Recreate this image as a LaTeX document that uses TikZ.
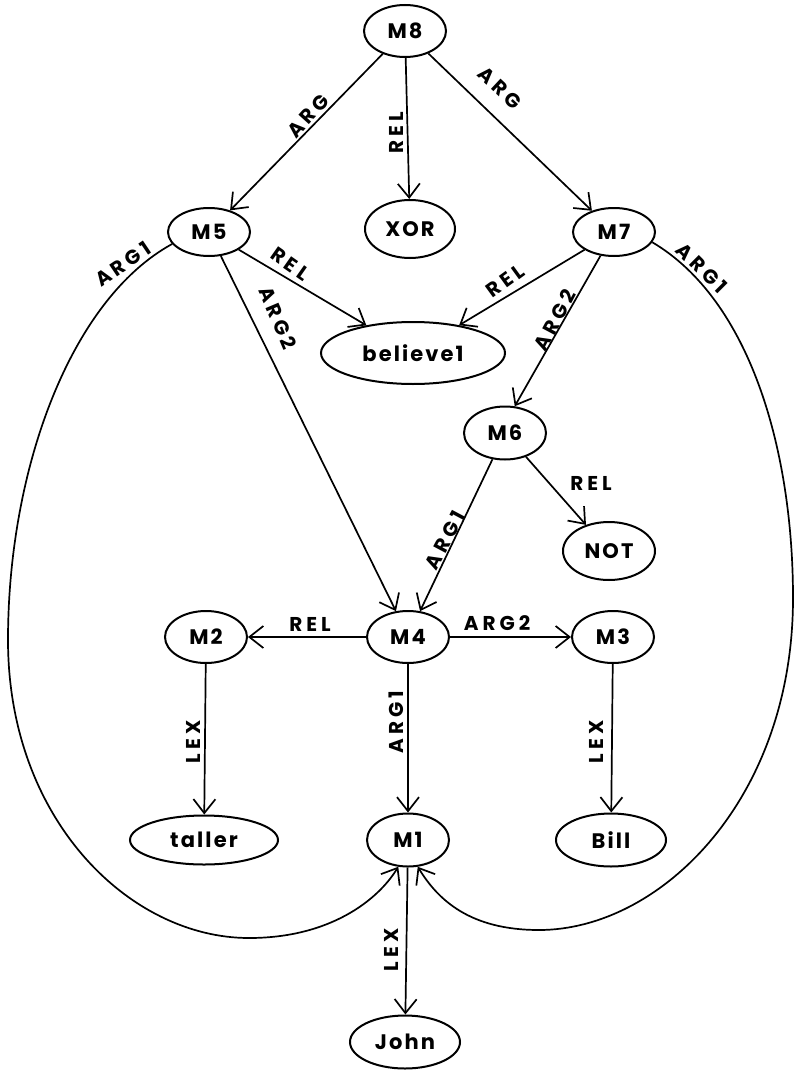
\documentclass[tikz,border=0pt]{standalone}
\usepackage{fontspec}
\setmainfont{Poppins}
\newfontfamily\nodef{Poppins}[LetterSpace=10]
\newfontfamily\labf{Poppins}[LetterSpace=20]
\usetikzlibrary{shapes.geometric,arrows.meta}
\begin{document}
\begin{tikzpicture}[x=1pt,y=-1pt,
  nd/.style={ellipse,draw,line width=2pt,inner sep=0pt,font=\nodef\bfseries\fontsize{21}{23}\selectfont},
  lab/.style={inner sep=0pt,font=\labf\bfseries\fontsize{20}{22}\selectfont},
  edge/.style={line width=1.7pt,-{Straight Barb[length=14pt,width=22pt,line width=1.7pt]}},
  plain/.style={line width=1.7pt}]
\useasboundingbox (0,0) rectangle (797,1070);
% nodes
\node[nd,minimum width=82pt,minimum height=52pt] (M8) at (405,31) {M8};
\node[nd,minimum width=90pt,minimum height=58pt] (XOR) at (410,229) {XOR};
\node[nd,minimum width=82pt,minimum height=48pt] (M5) at (209,232) {M5};
\node[nd,minimum width=82pt,minimum height=48pt] (M7) at (614,232) {M7};
\node[nd,minimum width=184pt,minimum height=62pt] (B1) at (413,353) {believe1};
\node[nd,minimum width=82pt,minimum height=53pt] (M6) at (505,433) {M6};
\node[nd,minimum width=92pt,minimum height=58pt] (NOT) at (609,551) {NOT};
\node[nd,minimum width=82pt,minimum height=52pt] (M2) at (206,637) {M2};
\node[nd,minimum width=82pt,minimum height=52pt] (M4) at (408,637) {M4};
\node[nd,minimum width=82pt,minimum height=52pt] (M3) at (613,637) {M3};
\node[nd,minimum width=148pt,minimum height=49pt] (taller) at (204,840) {taller};
\node[nd,minimum width=82pt,minimum height=53pt] (M1) at (408,840) {M1};
\node[nd,minimum width=110pt,minimum height=53pt] (Bill) at (611,840) {Bill};
\node[nd,minimum width=110pt,minimum height=53pt] (John) at (405,1042) {John};
% edges
\draw[edge] (M8) -- (M5);
\draw[edge] (M8) -- (XOR);
\draw[edge] (M8) -- (M7);
\draw[edge] (M5) -- (B1);
\draw[edge] (M7) -- (B1);
\draw[edge] (M5) -- (M4.115);
\draw[edge] (M7) -- (M6.70);
\draw[edge] (M6) -- (M4.65);
\draw[edge] (M6) -- (NOT);
\draw[edge] (M4) -- (M2);
\draw[edge] (M4) -- (M3);
\draw[edge] (M2) -- (taller);
\draw[edge] (M4) -- (M1);
\draw[edge] (M3) -- (Bill);
\draw[edge] (M1) -- (John);
% big arcs
\coordinate (L1) at (8,640);
\coordinate (L2) at (249,938);
\coordinate (R1) at (793,598);
\coordinate (R2) at (539,930);
\draw[edge] (M5.198) .. controls (70,300) and (8,470) .. (L1)
  .. controls (8,820) and (130,938) .. (L2)
  .. controls (330,938) and (378,900) .. (M1.250);
\draw[edge] (M7.-15) .. controls (750,300) and (793,450) .. (R1)
  .. controls (793,800) and (660,930) .. (R2)
  .. controls (470,930) and (438,900) .. (M1.290);
% labels
\node[lab,rotate=48] (lA) at (308,116) {ARG};
\node[lab,rotate=90] (lB) at (396,133) {REL};
\node[lab,rotate=-43] (lC) at (500,88) {ARG};
\node[lab,rotate=34] (lD) at (123,264) {ARG1};
\node[lab,rotate=-35] (lE) at (290,264) {REL};
\node[lab,rotate=-67] (lF) at (278,318) {ARG2};
\node[lab,rotate=36] (lG) at (505,281) {REL};
\node[lab,rotate=62] (lH) at (555,320) {ARG2};
\node[lab,rotate=-45] (lI) at (702,268) {ARG1};
\node[lab] (lJ) at (591,483) {REL};
\node[lab,rotate=62] (lK) at (445,540) {ARG1};
\node[lab] (lL) at (310,624) {REL};
\node[lab] (lM) at (497,623) {ARG2};
\node[lab,rotate=90] (lN) at (193,742) {LEX};
\node[lab,rotate=90] (lO) at (396,722) {ARG1};
\node[lab,rotate=90] (lP) at (596,742) {LEX};
\node[lab,rotate=90] (lQ) at (391,950) {LEX};
\end{tikzpicture}
\end{document}
